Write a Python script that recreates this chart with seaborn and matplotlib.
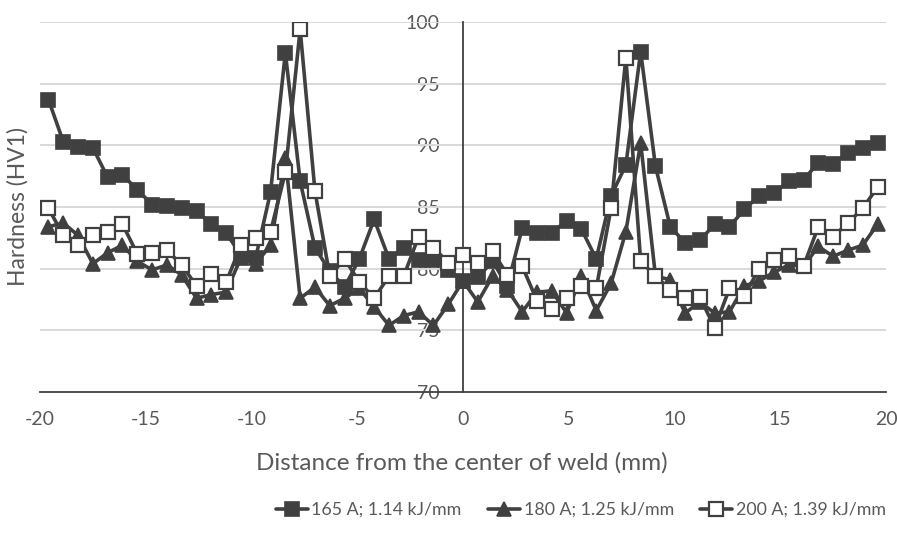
import matplotlib
matplotlib.use("Agg")
import matplotlib.pyplot as plt
import seaborn as sns
import pandas as pd

# ---- data ----
distance_mm = [-19.6, -18.9, -18.2, -17.5, -16.8, -16.1, -15.4, -14.7, -14.0, -13.3,
               -12.6, -11.9, -11.2, -10.5, -9.8, -9.1, -8.4, -7.7, -7.0, -6.3,
               -5.6, -4.9, -4.2, -3.5, -2.8, -2.1, -1.4, -0.7, 0.0, 0.7,
               1.4, 2.1, 2.8, 3.5, 4.2, 4.9, 5.6, 6.3, 7.0, 7.7,
               8.4, 9.1, 9.8, 10.5, 11.2, 11.9, 12.6, 13.3, 14.0, 14.7,
               15.4, 16.1, 16.8, 17.5, 18.2, 18.9, 19.6]

hv_165A = [93.7, 90.3, 89.9, 89.8, 87.4, 87.6, 86.4, 85.2, 85.1, 84.9,
           84.7, 83.6, 82.9, 81.1, 80.9, 86.2, 97.5, 87.1, 81.7, 79.8,
           78.5, 80.8, 84.0, 80.8, 81.7, 80.7, 80.7, 79.9, 79.0, 79.3,
           80.6, 78.6, 83.3, 82.9, 82.9, 83.9, 83.2, 80.8, 85.9, 88.4,
           97.6, 88.3, 83.4, 82.1, 82.3, 83.6, 83.4, 84.8, 85.9, 86.1,
           87.1, 87.2, 88.6, 88.5, 89.4, 89.8, 90.2]

hv_180A = [83.4, 83.7, 82.7, 80.4, 81.3, 81.9, 80.6, 79.9, 80.3, 79.5,
           77.6, 77.9, 78.1, 80.9, 80.4, 81.9, 89.0, 77.6, 78.5, 77.0,
           77.6, 78.4, 76.9, 75.4, 76.2, 76.5, 75.4, 77.1, 79.0, 77.3,
           79.4, 78.3, 76.5, 78.1, 78.2, 76.4, 79.4, 76.6, 78.8, 83.0,
           90.2, 79.4, 79.1, 76.4, 77.3, 76.4, 76.5, 78.6, 79.0, 79.7,
           80.3, 80.2, 81.8, 81.0, 81.5, 81.9, 83.6]

hv_200A = [84.9, 82.7, 81.9, 82.7, 83.0, 83.6, 81.2, 81.3, 81.5, 80.3,
           78.6, 79.6, 78.9, 81.9, 82.5, 83.0, 87.8, 99.4, 86.3, 79.4,
           80.8, 78.9, 77.6, 79.4, 79.4, 82.6, 81.7, 80.5, 81.1, 80.5,
           81.4, 79.5, 80.2, 77.4, 76.7, 77.6, 78.6, 78.4, 84.9, 97.1,
           80.6, 79.4, 78.3, 77.6, 77.7, 75.2, 78.4, 77.8, 80.0, 80.7,
           81.0, 80.2, 83.4, 82.6, 83.7, 84.9, 86.6]

series_labels = ["165 A; 1.14 kJ/mm", "180 A; 1.25 kJ/mm", "200 A; 1.39 kJ/mm"]
x_ticks = [-20, -15, -10, -5, 0, 5, 10, 15, 20]
y_ticks = [70, 75, 80, 85, 90, 95, 100]
x_title = "Distance from the center of weld (mm)"
y_title = "Hardness (HV1)"

# ---- style ----
sns.set_style("white")
plt.rcParams["font.family"] = ["Lato", "DejaVu Sans"]
TXT = "#595959"
LINE = "#404040"

fig = plt.figure(figsize=(8.97, 5.35), dpi=100)
ax = fig.add_axes([40 / 897, 1 - 392 / 535, (886 - 40) / 897, (392 - 22) / 535])

df = pd.DataFrame({"x": distance_mm, "a": hv_165A, "b": hv_180A, "c": hv_200A})

common = dict(ax=ax, color=LINE, linewidth=2.6, markersize=10.5, zorder=3,
              sort=False, markeredgecolor=LINE)
sns.lineplot(data=df, x="x", y="a", marker="s", markerfacecolor=LINE,
             label=series_labels[0], markeredgewidth=1.2, **common)
sns.lineplot(data=df, x="x", y="b", marker="^", markerfacecolor=LINE,
             label=series_labels[1], markeredgewidth=1.2, **common)
sns.lineplot(data=df, x="x", y="c", marker="s", markerfacecolor="white",
             label=series_labels[2], markeredgewidth=1.6, **common)

ax.set_xlim(-20, 20)
ax.set_ylim(70, 100)
ax.set_xticks(x_ticks)
ax.set_yticks(y_ticks)
ax.set_xticklabels([str(v) for v in x_ticks])
ax.set_yticklabels([str(v) for v in y_ticks])
ax.set_xlabel("")
ax.set_ylabel("")

for v in y_ticks[1:]:
    ax.axhline(v, color="#d9d9d9", lw=1.4, zorder=1)

for s in ["top", "right"]:
    ax.spines[s].set_visible(False)
ax.spines["left"].set_position(("data", 0))
ax.spines["left"].set_color(LINE)
ax.spines["left"].set_linewidth(1.3)
ax.spines["left"].set_zorder(2)
ax.spines["bottom"].set_color(LINE)
ax.spines["bottom"].set_linewidth(1.3)
ax.spines["bottom"].set_zorder(2)

ax.tick_params(axis="both", length=0, labelsize=14, labelcolor=TXT)
ax.tick_params(axis="y", pad=17)
ax.tick_params(axis="x", pad=14)

fig.text(462 / 897, 1 - 463 / 535, x_title, ha="center", va="center",
         fontsize=17.5, color=TXT)
fig.text(18 / 897, 1 - 207 / 535, y_title, ha="center", va="center",
         rotation=90, fontsize=16.5, color=TXT)

leg = ax.legend(loc="center right", bbox_to_anchor=(886 / 897, 1 - 510 / 535),
                bbox_transform=fig.transFigure, ncol=3, frameon=False,
                fontsize=12.8, handlelength=1.8, handletextpad=0.2,
                columnspacing=1.5, borderaxespad=0, borderpad=0)
for t in leg.get_texts():
    t.set_color(TXT)

fig.savefig("out.png", dpi=100)
